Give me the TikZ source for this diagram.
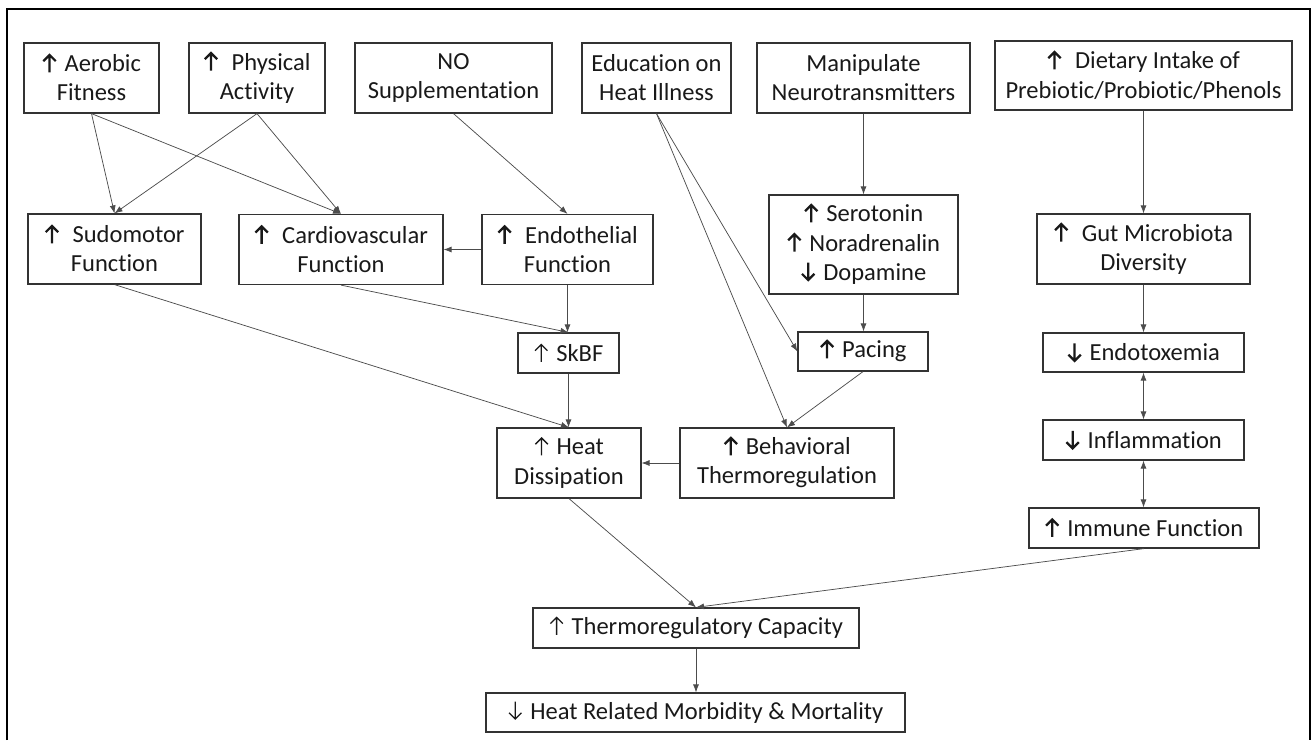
\documentclass[tikz,border=0pt]{standalone}
\usepackage{fontspec}
\setmainfont{Carlito}[Ligatures=NoCommon]
\usetikzlibrary{arrows.meta}
\newcommand{\arrglyph}[2]{\tikz[baseline=0pt,x=0.75pt,y=0.75pt]{%
  \useasboundingbox (-7.5,0) rectangle (9.5,17);%
  \draw[line width=#1, line cap=butt, line join=miter] #2;}}
\newcommand{\up}{\arrglyph{1.7pt}{(0,-0.5)--(0,17) (-6.2,10.8)--(0,17)--(6.2,10.8)}}
\newcommand{\dn}{\arrglyph{1.7pt}{(0,17.5)--(0,0) (-6.2,6.2)--(0,0)--(6.2,6.2)}}
\newcommand{\upt}{\arrglyph{0.95pt}{(0,-0.5)--(0,17) (-6.2,10.8)--(0,17)--(6.2,10.8)}}
\newcommand{\dnt}{\arrglyph{0.95pt}{(0,17.5)--(0,0) (-6.2,6.2)--(0,0)--(6.2,6.2)}}
\tikzset{
  bx/.style={draw=black!80, line width=0.9pt, inner sep=0pt, align=center,
    font=\fontsize{18.4pt}{21.8pt}\selectfont, text=black!90},
  conn/.style={draw=black!70, line width=0.55pt, -{Latex[length=6pt,width=4.5pt]}},
  dconn/.style={draw=black!70, line width=0.55pt, {Latex[length=6pt,width=4.5pt]}-{Latex[length=6pt,width=4.5pt]}},
  frame/.style={draw=black, line width=1.8pt}
}
\begin{document}
\begin{tikzpicture}[x=0.75pt,y=-0.75pt]
\useasboundingbox (0,0) rectangle (1315,740);
\draw[frame] (7,740) -- (7,9) -- (1310,9) -- (1310,740);
% row 1
\node[bx, minimum width=135*0.75pt, minimum height=70*0.75pt] (aer) at (91.5,78) {\up\ Aerobic\\Fitness};
\node[bx, minimum width=136*0.75pt, minimum height=70*0.75pt] (phy) at (257,78) {\up\ \ Physical\\Activity};
\node[bx, minimum width=197*0.75pt, minimum height=70*0.75pt] (nos) at (453.5,78) {NO\\Supplementation};
\node[bx, minimum width=149*0.75pt, minimum height=70*0.75pt] (edu) at (656.5,78) {Education on\\Heat Illness};
\node[bx, minimum width=213*0.75pt, minimum height=70*0.75pt] (man) at (863.5,78) {Manipulate\\Neurotransmitters};
\node[bx, minimum width=297*0.75pt, minimum height=69*0.75pt] (die) at (1143.5,75.5) {\up\ \ Dietary Intake of\\Prebiotic/Probiotic/Phenols};
% row 2
\node[bx, minimum width=173*0.75pt, minimum height=70*0.75pt] (sud) at (114.5,249) {\up\ \ Sudomotor\\Function};
\node[bx, minimum width=204*0.75pt, minimum height=70*0.75pt] (car) at (341,249.5) {\up\ \ Cardiovascular\\Function};
\node[bx, minimum width=171*0.75pt, minimum height=70*0.75pt] (end) at (567.5,249.5) {\up\ \ Endothelial\\Function};
\node[bx, minimum width=189*0.75pt, minimum height=99*0.75pt] (ser) at (863.5,244.5) {\up\ Serotonin\\\up\ Noradrenalin\\\dn\ Dopamine};
\node[bx, minimum width=213*0.75pt, minimum height=70*0.75pt] (gut) at (1143.5,249) {\up\ \ Gut Microbiota\\Diversity};
% row 3
\node[bx, minimum width=101*0.75pt, minimum height=40*0.75pt] (skb) at (568.5,353) {\upt\ SkBF};
\node[bx, minimum width=130*0.75pt, minimum height=39*0.75pt] (pac) at (863,351.5) {\up\ Pacing};
\node[bx, minimum width=201*0.75pt, minimum height=39*0.75pt] (etx) at (1143.5,352.5) {\dn\ Endotoxemia};
% row 4
\node[bx, minimum width=144*0.75pt, minimum height=70*0.75pt] (hdi) at (569,463) {\upt\ Heat\\Dissipation};
\node[bx, minimum width=214*0.75pt, minimum height=70*0.75pt] (beh) at (787,463) {\up\ Behavioral\\Thermoregulation};
\node[bx, minimum width=201*0.75pt, minimum height=40*0.75pt] (inf) at (1143.5,440) {\dn\ Inflammation};
\node[bx, minimum width=230*0.75pt, minimum height=40*0.75pt] (imm) at (1144,528) {\up\ Immune Function};
% bottom
\node[bx, minimum width=326*0.75pt, minimum height=40*0.75pt] (thr) at (696,628) {\upt\ Thermoregulatory Capacity};
\node[bx, minimum width=419*0.75pt, minimum height=39*0.75pt] (hrm) at (695.5,712.5) {\dnt\ Heat Related Morbidity \& Mortality};
% connectors
\draw[conn] (aer.south) -- (sud.north);
\draw[conn] (aer.south) -- (car.north);
\draw[conn] (phy.south) -- (sud.north);
\draw[conn] (phy.south) -- (car.north);
\draw[conn] (nos.south) -- (end.north);
\draw[conn] (end.west) -- (car.east);
\draw[conn] (end.south) -- (end.south |- skb.north);
\draw[conn] (car.south) -- (skb.north);
\draw[conn] (sud.south) -- (hdi.north);
\draw[conn] (skb.south) -- (skb.south |- hdi.north);
\draw[conn] (beh.west) -- (hdi.east);
\draw[conn] (edu.south) -- (beh.north);
\draw[conn] (edu.south) -- (pac.west);
\draw[conn] (man.south) -- (ser.north);
\draw[conn] (ser.south) -- (ser.south |- pac.north);
\draw[conn] (pac.south) -- (beh.north);
\draw[conn] (die.south) -- (gut.north);
\draw[conn] (gut.south) -- (etx.north);
\draw[dconn] (etx.south) -- (inf.north);
\draw[dconn] (inf.south) -- (inf.south |- imm.north);
\draw[conn] (imm.south) -- (thr.north);
\draw[conn] (hdi.south) -- (thr.north);
\draw[conn] (thr.south) -- (thr.south |- hrm.north);
\end{tikzpicture}
\end{document}
